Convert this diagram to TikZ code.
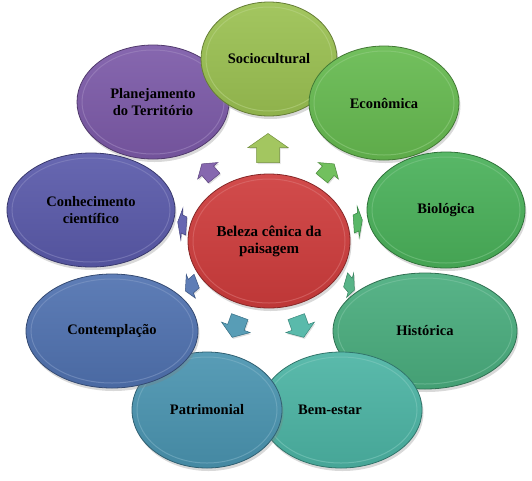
\documentclass[tikz,border=0pt]{standalone}
\usepackage{fontspec}
\setmainfont{Liberation Serif}
\usetikzlibrary{shadows,shapes.geometric}

\definecolor{cSocio}{RGB}{155,193,82}
\definecolor{cEcon}{RGB}{102,186,80}
\definecolor{cBio}{RGB}{74,177,90}
\definecolor{cHist}{RGB}{74,173,126}
\definecolor{cBem}{RGB}{76,180,164}
\definecolor{cPatr}{RGB}{74,148,176}
\definecolor{cCont}{RGB}{80,114,176}
\definecolor{cConh}{RGB}{90,90,170}
\definecolor{cPlan}{RGB}{124,90,168}
\definecolor{cBeleza}{RGB}{206,60,60}

\tikzset{
  bubble/.style={ellipse, draw=#1!65!black, line width=0.8pt,
    top color=#1!92!white, bottom color=#1!92!black, inner sep=0pt,
    align=center, font=\bfseries\fontsize{14.5}{17}\selectfont,
    drop shadow={opacity=0.3, shadow xshift=1.5pt, shadow yshift=-3pt}},
  ring/.style={draw=#1!70!white, line width=1pt, opacity=0.55},
  blockarrow/.pic={
    \draw[draw=#1!75!black, line width=0.5pt, fill=#1!92!white,
      drop shadow={opacity=0.25, shadow xshift=1pt, shadow yshift=-1.5pt}]
      (-14.5,-11.5) -- (0.5,-11.5) -- (0.5,-20) -- (14.5,0)
      -- (0.5,20) -- (0.5,11.5) -- (-14.5,11.5) -- cycle;
  }
}

\begin{document}
\begin{tikzpicture}[x=1pt, y=-1pt]
	\useasboundingbox (0,0) rectangle (532,480);
	% outer ring
	\node[bubble=cPlan, minimum width=152pt, minimum height=114pt] (plan) at (153,102) {Planejamento\\do Território};
	\draw[ring=cPlan] (plan.center) ellipse [x radius=71, y radius=52];
	\node[bubble=cSocio, minimum width=136pt, minimum height=114pt] (socio) at (269,59) {Sociocultural};
	\draw[ring=cSocio] (socio.center) ellipse [x radius=63, y radius=52];
	\node[bubble=cEcon, minimum width=150pt, minimum height=114pt] (econ) at (384,103) {Econômica};
	\draw[ring=cEcon] (econ.center) ellipse [x radius=70, y radius=52];
	\node[bubble=cBio, minimum width=158pt, minimum height=116pt] (bio) at (446,210) {Biológica};
	\draw[ring=cBio] (bio.center) ellipse [x radius=74, y radius=53];
	\node[bubble=cHist, minimum width=184pt, minimum height=116pt] (hist) at (425,331) {Histórica};
	\draw[ring=cHist] (hist.center) ellipse [x radius=87, y radius=53];
	\node[bubble=cBem, minimum width=162pt, minimum height=116pt] (bem) at (341,410) {\hspace*{-22pt}Bem-estar};
	\draw[ring=cBem] (bem.center) ellipse [x radius=76, y radius=53];
	\node[bubble=cPatr, minimum width=150pt, minimum height=116pt] (patr) at (207,410) {Patrimonial};
	\draw[ring=cPatr] (patr.center) ellipse [x radius=70, y radius=53];
	\node[bubble=cCont, minimum width=172pt, minimum height=114pt] (cont) at (112,331) {Contemplação};
	\draw[ring=cCont] (cont.center) ellipse [x radius=81, y radius=52];
	\node[bubble=cConh, minimum width=168pt, minimum height=114pt] (conh) at (91,210) {Conhecimento\\científico};
	\draw[ring=cConh] (conh.center) ellipse [x radius=79, y radius=52];
	% centre
	\node[bubble=cBeleza, minimum width=162pt, minimum height=134pt, font=\bfseries\fontsize{15}{17}\selectfont] (beleza) at (269,241) {Beleza cênica da\\paisagem};
	\draw[ring=cBeleza] (beleza.center) ellipse [x radius=76, y radius=62];
	% arrows
	\pic[rotate=90] at (268,148) {blockarrow=cSocio};
	\pic[xscale=0.66, yscale=0.64, rotate=50] at (328,171) {blockarrow=cEcon};
	\pic[xscale=0.3, yscale=0.8, rotate=10] at (358,222) {blockarrow=cBio};
	\pic[xscale=0.35, yscale=0.7, rotate=-30] at (350,285) {blockarrow=cHist};
	\pic[xscale=0.76, yscale=0.76, rotate=-70] at (300,327) {blockarrow=cBem};
	\pic[xscale=0.76, yscale=0.76, rotate=-110] at (236,327) {blockarrow=cPatr};
	\pic[xscale=0.45, yscale=0.68, rotate=-150] at (191,286) {blockarrow=cCont};
	\pic[xscale=0.3, yscale=0.8, rotate=170] at (182,224) {blockarrow=cConh};
	\pic[xscale=0.66, yscale=0.64, rotate=130] at (208,171) {blockarrow=cPlan};
\end{tikzpicture}
\end{document}
